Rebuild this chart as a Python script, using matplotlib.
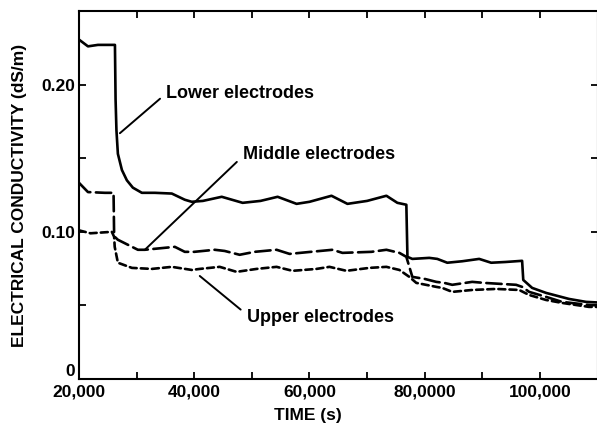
import matplotlib
matplotlib.use("Agg")
import matplotlib.pyplot as plt
from matplotlib.ticker import MultipleLocator, FixedLocator

plt.rcParams['font.family'] = ['Liberation Sans', 'DejaVu Sans']
plt.rcParams['font.weight'] = 'bold'
plt.rcParams['lines.scale_dashes'] = False

# Lower electrodes (solid)
lower_t = [20000, 21560, 23290, 26240, 26350, 26500, 26750, 27450, 28310, 29350,
           30910, 33160, 36110, 38360, 39570, 41500, 44770, 48400, 51500, 54470,
           57760, 60010, 63820, 66590, 70000, 73350, 75250, 76810, 77000, 77850,
           80790, 82180, 83910, 86500, 89450, 91530, 94000, 96900, 97100, 98640,
           101060, 105040, 108000, 110000]
lower_v = [0.2306, 0.226, 0.227, 0.227, 0.19, 0.169, 0.153, 0.142, 0.135, 0.130,
           0.1265, 0.1265, 0.126, 0.1218, 0.1204, 0.121, 0.1238, 0.1197, 0.121, 0.1238,
           0.119, 0.1204, 0.1245, 0.119, 0.121, 0.1245, 0.1197, 0.1184, 0.083, 0.0816,
           0.0823, 0.0816, 0.079, 0.080, 0.0816, 0.079, 0.0795, 0.0803, 0.0673, 0.0619,
           0.0585, 0.0544, 0.0524, 0.052]

# Middle electrodes (long dash)
middle_t = [20000, 21560, 24500, 26000, 26100, 26750, 30220, 31430, 36630, 38360,
            40000, 43560, 45280, 47880, 50480, 54290, 56540, 60500, 64000, 65720,
            70750, 73350, 75600, 76810, 77500, 77850, 80000, 82000, 83390, 84780,
            88240, 90320, 95860, 96900, 98120, 101060, 103830, 108500, 110000]
middle_v = [0.1333, 0.127, 0.1265, 0.1265, 0.097, 0.0946, 0.0878, 0.0878, 0.0898, 0.0864,
            0.0864, 0.0878, 0.087, 0.0844, 0.0864, 0.0878, 0.085, 0.0865, 0.0878, 0.0857,
            0.0864, 0.0878, 0.0857, 0.083, 0.074, 0.0694, 0.068, 0.066, 0.0653, 0.064,
            0.066, 0.0653, 0.064, 0.0626, 0.0592, 0.0558, 0.0524, 0.0503, 0.050]

# Upper electrodes (short dash)
upper_t = [20000, 22000, 25700, 26100, 26200, 26750, 29180, 32640, 36110, 39570,
           40960, 44420, 47360, 50830, 54290, 57060, 61220, 63470, 66420, 70400,
           73350, 75600, 77330, 78540, 82000, 83040, 84780, 88240, 92400, 96380,
           98120, 101060, 103830, 108500, 110000]
upper_v = [0.101, 0.099, 0.100, 0.0966, 0.0898, 0.079, 0.0755, 0.0748, 0.0762, 0.0741,
           0.0748, 0.0762, 0.0728, 0.0748, 0.0762, 0.0735, 0.0748, 0.0762, 0.0735, 0.0755,
           0.0762, 0.0741, 0.0694, 0.0653, 0.0626, 0.0619, 0.0592, 0.0605, 0.0612, 0.0605,
           0.0571, 0.0537, 0.0517, 0.049, 0.049]

x_ticks = [20000, 40000, 60000, 80000, 100000]
x_ticklabels = ['20,000', '40,000', '60,000', '80,0000', '100,000']
y_ticks = [0, 0.10, 0.20]
y_ticklabels = ['0', '0.10', '0.20']

fig = plt.figure(figsize=(5.97, 4.26), dpi=100)
ax = fig.add_axes([0.1323, 0.1103, 0.8687, 0.8638])

ax.plot(lower_t, lower_v, color='black', lw=1.9, solid_joinstyle='round')
ax.plot(middle_t, middle_v, color='black', lw=1.9, dashes=(11, 4),
        dash_capstyle='round', dash_joinstyle='round')
ax.plot(upper_t, upper_v, color='black', lw=1.9, dashes=(5, 3),
        dash_capstyle='round', dash_joinstyle='round')

ax.set_xlim(20000, 110000)
ax.set_ylim(0, 0.25)

ax.xaxis.set_major_locator(FixedLocator(x_ticks))
ax.set_xticklabels(x_ticklabels)
ax.xaxis.set_minor_locator(MultipleLocator(10000))
ax.yaxis.set_major_locator(FixedLocator(y_ticks))
ax.set_yticklabels(y_ticklabels)
ax.yaxis.set_minor_locator(MultipleLocator(0.05))

ax.tick_params(which='both', direction='in', top=True, right=True,
               length=5, width=1.3, labelsize=12.5, pad=3)
ax.tick_params(axis='x', pad=4)
for lab in ax.get_xticklabels() + ax.get_yticklabels():
    lab.set_fontweight('bold')
# keep the "0" label just above the x tick labels
ax.get_yticklabels()[0].set_verticalalignment('bottom')
for sp in ax.spines.values():
    sp.set_linewidth(1.5)

ax.set_xlabel('TIME (s)', fontsize=12.5, fontweight='bold')
ax.xaxis.set_label_coords((308 - 79) / 518, -0.080)
ax.set_ylabel('ELECTRICAL CONDUCTIVITY (dS/m)', fontsize=12.5, fontweight='bold')
ax.yaxis.set_label_coords(-0.100, 0.5)

line_kw = dict(arrowstyle='-', lw=1.4, color='black', shrinkA=3, shrinkB=0)
ax.annotate('Lower electrodes', xy=(27100, 0.167), xytext=(35100, 0.1939),
            ha='left', va='center', fontsize=13, fontweight='bold',
            arrowprops=dict(relpos=(0, 0.5), **line_kw))
ax.annotate('Middle electrodes', xy=(31430, 0.0878), xytext=(48400, 0.1524),
            ha='left', va='center', fontsize=13, fontweight='bold',
            arrowprops=dict(relpos=(0, 0.4), **line_kw))
ax.annotate('Upper electrodes', xy=(40960, 0.070), xytext=(49100, 0.0415),
            ha='left', va='center', fontsize=13, fontweight='bold',
            arrowprops=dict(relpos=(0, 0.7), **line_kw))

fig.savefig('out.png', dpi=100)
